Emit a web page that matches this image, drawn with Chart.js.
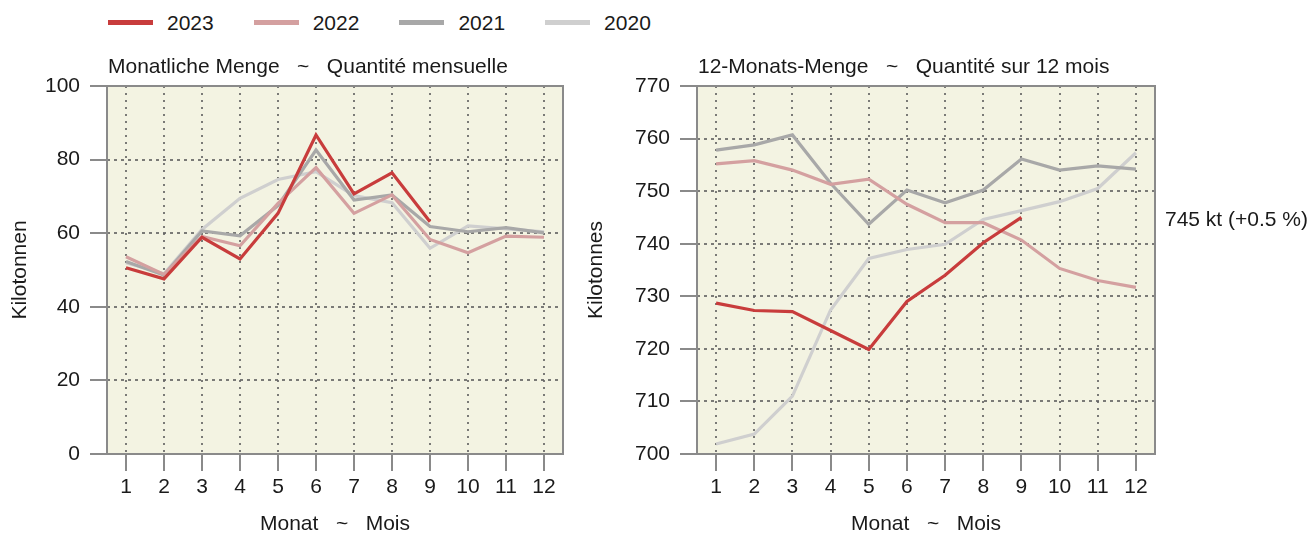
<!DOCTYPE html>
<html>
<head>
<meta charset="utf-8">
<script src="https://cdn.jsdelivr.net/npm/chart.js@4/dist/chart.umd.min.js"></script>
<style>
  body { margin: 0; background: #fff; width: 1313px; height: 533px; position: relative; overflow: hidden; font-family: "Liberation Sans", Arial, sans-serif; color: #1a1a1a; }
  canvas { position: absolute; top: 0; }
  #legend { position: absolute; top: 0; left: 0; height: 45px; }
  .item { position: absolute; top: 9px; height: 27px; display: flex; align-items: center; font-size: 21px; }
  .swatch { width: 45px; height: 5px; margin-right: 14px; }
</style>
</head>
<body>
<div id="legend"></div>
<canvas id="monthly" width="575" height="533" style="left:0"></canvas>
<canvas id="rolling" width="738" height="533" style="left:575px"></canvas>
<script>
const months = ["1", "2", "3", "4", "5", "6", "7", "8", "9", "10", "11", "12"];
const years = ["2023", "2022", "2021", "2020"];
const colors = ["#c83c3c", "#d4a0a0", "#a8a8a8", "#cfcfcf"];

// Monatliche Menge (kt)
const monthly2023 = [50.6, 47.6, 58.9, 53.0, 65.4, 86.7, 70.7, 76.4, 63.1];
const monthly2022 = [53.6, 48.8, 59.1, 56.6, 68.1, 77.8, 65.4, 70.4, 58.3, 54.7, 59.2, 58.9];
const monthly2021 = [52.3, 48.6, 60.6, 59.3, 67.5, 82.6, 69.0, 70.4, 61.8, 60.4, 61.5, 60.1];
const monthly2020 = [52.0, 49.0, 61.0, 69.5, 74.6, 76.7, 70.2, 68.3, 55.9, 62.0, 61.2, 60.4];

// 12-Monats-Menge (kt)
const rolling2023 = [728.7, 727.3, 727.1, 723.5, 719.9, 729.0, 734.0, 740.2, 745.0];
const rolling2022 = [755.2, 755.8, 754.0, 751.3, 752.3, 747.5, 744.0, 744.0, 740.7, 735.3, 733.0, 731.7];
const rolling2021 = [757.8, 758.8, 760.7, 751.5, 743.7, 750.2, 747.8, 750.2, 756.1, 754.0, 754.8, 754.2];
const rolling2020 = [701.9, 703.8, 711.0, 727.4, 737.2, 738.9, 739.9, 744.6, 746.3, 748.0, 750.5, 757.3];

const lastChange = "(+0.5 %)";

const FONT = "'Liberation Sans', Arial, sans-serif";
const TEXT = "#1a1a1a";
const AXIS = "#8a8a8a";
const SIZE = 21;

// legend shared by both panels
const legend = document.getElementById("legend");
years.forEach((y, i) => {
  const el = document.createElement("div");
  el.className = "item";
  el.style.left = (108 + i * 145.7) + "px";
  el.innerHTML = `<span class="swatch" style="background:${colors[i]}"></span><span>${y}</span>`;
  legend.appendChild(el);
});

function makeDatasets(series) {
  return series.map((data, i) => ({
    label: years[i],
    data,
    borderColor: colors[i],
    borderWidth: 3.2,
    pointRadius: 0,
    tension: 0,
    fill: false
  }));
}

// beige panel, box round it and the panel title
const panel = {
  id: "panel",
  beforeDraw(chart) {
    const { ctx, chartArea: a } = chart;
    ctx.save();
    ctx.fillStyle = "#f3f3e2";
    ctx.fillRect(a.left, a.top, a.right - a.left, a.bottom - a.top);
    ctx.restore();
  },
  afterDraw(chart, args, opts) {
    const { ctx, chartArea: a } = chart;
    ctx.save();
    ctx.strokeStyle = AXIS;
    ctx.lineWidth = 2;
    ctx.strokeRect(a.left, a.top, a.right - a.left, a.bottom - a.top);
    ctx.fillStyle = TEXT;
    ctx.font = SIZE + "px " + FONT;
    ctx.textBaseline = "alphabetic";
    ctx.textAlign = "left";
    ctx.fillText(opts.title, a.left + 1, 73);
    if (opts.note) {
      const y = chart.scales.y.getPixelForValue(opts.note.value);
      ctx.textBaseline = "middle";
      ctx.fillText(opts.note.text, a.right + 10, y + 3);
    }
    ctx.restore();
  }
};

function makeChart(id, series, yMin, yMax, step, yTitle, titleGap, title, yWidth, padRight, note) {
  return new Chart(document.getElementById(id), {
    type: "line",
    data: { labels: months, datasets: makeDatasets(series) },
    plugins: [panel],
    options: {
      responsive: false,
      animation: false,
      layout: { padding: { top: 86, right: padRight, bottom: 0, left: 0 } },
      plugins: {
        legend: { display: false },
        tooltip: { enabled: false },
        panel: { title, note }
      },
      scales: {
        x: {
          type: "category",
          offset: true,
          afterFit: s => { s.height = 79; },
          grid: {
            offset: false,
            color: "rgba(100,100,100,0.85)",
            lineWidth: 2,
            tickLength: 17,
            tickColor: AXIS,
            tickWidth: 2,
            tickBorderDash: []
          },
          border: { display: false, dash: [2, 5] },
          ticks: { color: TEXT, font: { family: FONT, size: SIZE }, padding: 4, maxRotation: 0, autoSkip: false },
          title: {
            display: true,
            text: "Monat   ~   Mois",
            color: TEXT,
            font: { family: FONT, size: SIZE, lineHeight: 0.8 },
            padding: { top: 0, bottom: 0 }
          }
        },
        y: {
          min: yMin,
          max: yMax,
          afterFit: s => { s.width = yWidth; },
          grid: {
            color: "rgba(100,100,100,0.85)",
            lineWidth: 2,
            tickLength: 17,
            tickColor: AXIS,
            tickWidth: 2,
            tickBorderDash: []
          },
          border: { display: false, dash: [3, 4] },
          ticks: { stepSize: step, color: TEXT, font: { family: FONT, size: SIZE }, padding: 10 },
          title: {
            display: true,
            text: yTitle,
            color: TEXT,
            font: { family: FONT, size: SIZE, lineHeight: 1 },
            padding: { top: titleGap, bottom: 0 }
          }
        }
      }
    }
  });
}

makeChart("monthly", [monthly2023, monthly2022, monthly2021, monthly2020], 0, 100, 20,
  "Kilotonnen", 10, "Monatliche Menge   ~   Quantité mensuelle", 107, 12, null);

makeChart("rolling", [rolling2023, rolling2022, rolling2021, rolling2020], 700, 770, 10,
  "Kilotonnes", 11, "12-Monats-Menge   ~   Quantité sur 12 mois", 122, 158,
  { value: rolling2023[rolling2023.length - 1], text: Math.round(rolling2023[rolling2023.length - 1]) + " kt " + lastChange });
</script>
</body>
</html>
